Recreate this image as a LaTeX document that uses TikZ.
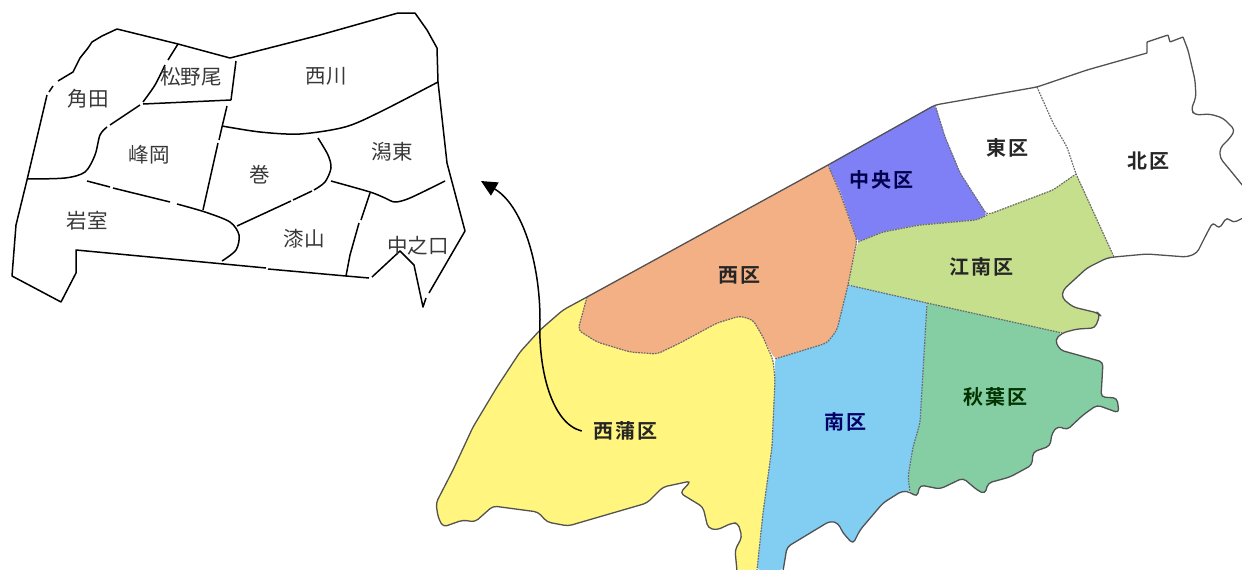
\documentclass[tikz,border=0pt]{standalone}
\usepackage{fontspec}
\setmainfont{Noto Sans CJK JP}
\newfontfamily\lab[LetterSpace=10]{Noto Sans CJK JP Bold}
\usetikzlibrary{arrows.meta}
\definecolor{cy}{HTML}{FFF57F}
\definecolor{co}{HTML}{F3B084}
\definecolor{cp}{HTML}{8080F6}
\definecolor{cg}{HTML}{C6DF8D}
\definecolor{cb}{HTML}{82CDF2}
\definecolor{ct}{HTML}{85CDA3}
\tikzset{
 base/.style={x=1pt,y=-1pt},
 oldline/.style={draw=black,line width=1.5pt,line join=round},
 oldname/.style={font=\fontsize{20.5}{22}\selectfont,text=black!78,inner sep=0pt},
 wardname/.style={font=\lab\fontsize{20}{22}\selectfont,inner sep=0pt},
 coast/.style={draw=black!68,line width=1.3pt,line join=round,rounded corners=4pt},
 border/.style={draw=black!58,line width=1.2pt,dash pattern=on 1.7pt off 1.1pt,rounded corners=4pt},
 area/.style={draw=#1,fill=#1,line width=0.5pt,rounded corners=4pt},
 region/.style={sharp plot},
}
\begin{document}
\begin{tikzpicture}[base]
\useasboundingbox (0,0) rectangle (1242,570);
% ===== right map fills =====
\path[area=cy] plot[region] coordinates {(436,503)(453,470)(473,427)(497,387)(520,352)(540,330)(563,310)(587,297)(578,330)(597,342)(630,352)(657,354)(680,343)(717,323)(740,316)(753,320)(763,337)(773,360)(775,380)(772,447)(763,513)(757,570)(737,570)(735,550)(742,537)(738,523)(732,523)(717,530)(708,528)(703,507)(680,493)(691,481)(663,487)(647,503)(568,526)(547,522)(538,512)(493,506)(475,522)(463,520)(443,527)(438,517)} -- cycle;
\path[area=co] plot[region] coordinates {(587,297)(828,165)(840,193)(857,240)(848,285)(837,330)(827,343)(775,359)(763,337)(753,320)(740,316)(717,323)(680,343)(657,354)(630,352)(597,342)(578,330)} -- cycle;
\path[area=cp] plot[region] coordinates {(828,165)(935,105)(945,137)(960,173)(987,215)(977,220)(920,225)(883,232)(858,242)(853,227)(840,190)} -- cycle;
\path[area=cg] plot[region] coordinates {(858,242)(883,232)(920,225)(977,220)(987,215)(1053,190)(1076,174)(1114,257)(1107,258)(1087,268)(1063,290)(1062,298)(1073,307)(1098,313)(1100,315)(1095,328)(1077,329)(1062,333)(927,303)(848,285)} -- cycle;
\path[area=ct] plot[region] coordinates {(927,303)(1062,333)(1055,340)(1060,350)(1103,362)(1101,397)(1117,398)(1119,413)(1097,405)(1083,415)(1067,430)(1058,426)(1052,433)(1050,446)(1033,452)(1032,465)(1010,477)(988,483)(985,494)(977,490)(963,478)(940,489)(920,485)(917,497)(910,492)(908,477)(913,447)(920,423)} -- cycle;
\path[area=cb] plot[region] coordinates {(775,359)(827,343)(837,330)(848,285)(927,303)(920,423)(913,447)(908,477)(910,492)(902,491)(883,503)(860,530)(853,544)(843,533)(838,523)(830,521)(787,547)(783,570)(757,570)(763,513)(772,447)(775,380)} -- cycle;
% ===== right map borders =====
\draw[border] plot[region] coordinates {(587,297)(578,330)(597,342)(630,352)(657,354)(680,343)(717,323)(740,316)(753,320)(763,337)(773,360)(775,380)(772,447)(763,513)(757,570)};
\draw[border] plot[region] coordinates {(828,165)(840,193)(857,240)(848,285)(837,330)(827,343)(775,359)};
\draw[border] plot[region] coordinates {(935,105)(945,137)(960,173)(987,215)(1053,190)(1076,174)};
\draw[border] plot[region] coordinates {(858,242)(883,232)(920,225)(977,220)(987,215)};
\draw[border] plot[region] coordinates {(1037,87)(1053,123)(1067,147)(1076,174)(1114,257)};
\draw[border] (848,285) -- (927,303) -- (1062,333);
\draw[border] plot[region] coordinates {(927,303)(920,423)(913,447)(908,477)(910,492)};
% ===== coast =====
\draw[coast] plot[region] coordinates {(737,571)(735,550)(742,537)(738,523)(732,523)(717,530)(708,528)(703,507)(680,493)(691,481)(663,487)(647,503)(568,526)(547,522)(538,512)(493,506)(475,522)(463,520)(443,527)(438,517)(436,503)(453,470)(473,427)(497,387)(520,352)(540,330)(563,310)(587,297)(828,165)(935,105)(1037,87)(1087,70)(1147,53)};
\draw[coast,rounded corners=0.5pt] (1147,53) -- (1147,42) -- (1168,35) -- (1170,42) -- (1183,37);
\draw[coast] plot[region] coordinates {(1183,37)(1188,50)(1195,80)(1196,97)(1191,110)(1195,115)(1210,114)(1223,118)(1235,130)(1230,138)(1220,148)(1220,158)(1230,170)(1243,186)};
\draw[coast] plot[region] coordinates {(1243,218)(1233,223)(1227,217)(1219,229)(1213,222)(1207,233)(1197,253)(1187,257)(1147,254)(1114,257)(1107,258)(1087,268)(1063,290)(1062,298)(1073,307)(1098,313)(1100,315)(1095,328)(1077,329)(1062,333)(1055,340)(1060,350)(1103,362)(1101,397)(1117,398)(1119,413)(1097,405)(1083,415)(1067,430)(1058,426)(1052,433)(1050,446)(1033,452)(1032,465)(1010,477)(988,483)(985,494)(977,490)(963,478)(940,489)(920,485)(917,497)(910,492)(902,491)(883,503)(860,530)(853,544)(843,533)(838,523)(830,521)(787,547)(783,571)};
% ===== ward labels =====
\node[wardname,text=black!85] (nishikan) at (625,431) {西蒲区};
\node[wardname,text=black!85] (nishi) at (739,275) {西区};
\node[wardname,text=blue!30!black] (chuo) at (881,180) {中央区};
\node[wardname,text=black!85] (higashi) at (1007,148) {東区};
\node[wardname,text=black!85] (kita) at (1148,161) {北区};
\node[wardname,text=black!85] (konan) at (981,267) {江南区};
\node[wardname,text=blue!40!black] (minami) at (845,422) {南区};
\node[wardname,text=green!20!black] (akiha) at (995,397) {秋葉区};
% ===== old map =====
\draw[oldline] (58,81) -- (73,72) -- (80,58) -- (88,48) -- (92,42) -- (102,36) -- (117,29) -- (178,44) -- (230,58) -- (320,35) -- (398,13) -- (415,13) -- (427,30) -- (437,48) -- (438,82) -- (447,163) -- (465,231) -- (429,293);
\draw[oldline] (426,298) -- (423,307) -- (414,265) -- (400,251) -- (372,277);
\draw[oldline] (369,278) -- (346,276) -- (268,269);
\draw[oldline] (266,268) -- (76,250) -- (76,273) -- (61,302) -- (12,276) -- (16,225) -- (27,180) -- (47,95);
\draw[oldline] (49,92) -- (53,86);
\draw[oldline] plot[smooth,tension=0.5] coordinates {(27,179)(65,178)(85,172)(95,155)(100,135)(107,127)};
\draw[oldline] plot[smooth,tension=0.5] coordinates {(110,125)(125,115)(140,105)};
\draw[oldline] plot[smooth,tension=0.5] coordinates {(143,102)(155,85)(165,65)};
\draw[oldline] (168,60) -- (178,44);
\draw[oldline] (143,104) -- (231,100);
\draw[oldline] (236,61) -- (231,100);
\draw[oldline] (227,106) -- (222,127) -- (219,140);
\draw[oldline] (218,143) -- (203,210);
\draw[oldline] plot[smooth,tension=0.5] coordinates {(222,126)(260,132)(300,134)(345,127)(380,112)(438,82)};
\draw[oldline] plot[smooth,tension=0.5] coordinates {(318,138)(328,155)(331,168)(325,182)(314,190)};
\draw[oldline] (312,191) -- (293,200);
\draw[oldline] (291,201) -- (237,226);
\draw[oldline] (87,181) -- (110,187);
\draw[oldline] (113,188) -- (170,202);
\draw[oldline] plot[smooth,tension=0.5] coordinates {(177,204)(205,212)(230,222)(239,235)(236,250)(222,261)};
\draw[oldline] plot[smooth,tension=0.5] coordinates {(331,181)(370,192)(385,198)(395,202)(410,198)(445,181)};
\draw[oldline] (370,193) -- (361,220);
\draw[oldline] (359,223) -- (350,255) -- (346,276);
\node[oldname] (kakuda) at (88,99) {角田};
\node[oldname] (matsu) at (191,77) {松野尾};
\node[oldname] (nishikawa) at (326,76) {西川};
\node[oldname] (mineoka) at (149,155) {峰岡};
\node[oldname] (maki) at (260,175) {巻};
\node[oldname] (katahigashi) at (392,152) {潟東};
\node[oldname] (iwamuro) at (87,221) {岩室};
\node[oldname] (urushiyama) at (304,239) {漆山};
\node[oldname] (nakanokuchi) at (418,246) {中之口};
% ===== arrow =====
\coordinate (arrowend) at (481,181);
\path (nishikan.west) ++(-11,0) coordinate (arrowstart);
\draw[black,line width=1.5pt,-{Triangle[length=16pt,width=15pt]}] (arrowstart) .. controls (552,424) and (538,370) .. (540,320) .. controls (540,262) and (522,205) .. (arrowend);
\end{tikzpicture}
\end{document}
